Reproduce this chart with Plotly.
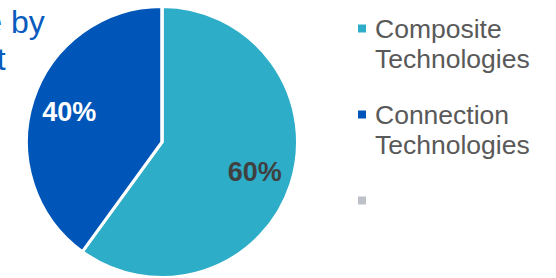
import plotly.graph_objects as go

# ---- data ----
categories = ["Composite Technologies", "Connection Technologies", ""]
shares = [60, 40, 0]
slice_colors = ["#2EADC8", "#0055B8", "#BCC1C8"]
label_colors = ["#404040", "#FFFFFF", "#404040"]
title_lines = ["Revenue by", "segment"]

W, H = 556, 278


def px_x(x):
    return x / W


def px_y(y):
    return 1 - y / H


pie_domain = dict(x=[px_x(26.5), px_x(297.5)], y=[0.5 / H, 271.5 / H])

fig = go.Figure()
# the pie itself
fig.add_trace(go.Pie(
    labels=categories, values=shares, sort=False, direction="clockwise", rotation=0,
    marker=dict(colors=slice_colors, line=dict(color="#FFFFFF", width=3)),
    textinfo="none", domain=pie_domain, showlegend=False, hoverinfo="skip",
))
# transparent ring carrying the percentage labels (places them in the outer part of each slice)
fig.add_trace(go.Pie(
    labels=categories, values=shares, sort=False, direction="clockwise", rotation=0,
    hole=0.44,
    marker=dict(colors=["rgba(0,0,0,0)"] * len(categories), line=dict(width=0)),
    textinfo="percent", textposition="inside", insidetextorientation="horizontal",
    textfont=dict(family="Liberation Sans, Arial", size=27, color=label_colors, weight="bold"),
    domain=pie_domain, showlegend=False, hoverinfo="skip",
))

shapes = []
annotations = []

# legend built from categories/colors
item_gap = 86
line_gap = 30.8
for i, (cat, col) in enumerate(zip(categories, slice_colors)):
    cy = 28.5 + i * item_gap
    shapes.append(dict(type="rect", xref="paper", yref="paper",
                       x0=px_x(358), x1=px_x(366), y0=px_y(cy - 4), y1=px_y(cy + 4),
                       fillcolor=col, line=dict(width=0)))
    words = cat.split(" ") if cat else []
    for j, w in enumerate(words):
        annotations.append(dict(text=w, xref="paper", yref="paper",
                                x=px_x(373), y=px_y(cy + j * line_gap),
                                xanchor="left", yanchor="middle", showarrow=False,
                                font=dict(family="Liberation Sans, Arial", size=26.5, color="#595959")))

# title (partially cut by the left edge, as in the source)
title_right = [47, 8]
title_mid = [22.3, 59.0]
for t, xr, ym in zip(title_lines, title_right, title_mid):
    annotations.append(dict(text=t, xref="paper", yref="paper",
                            x=px_x(xr), y=px_y(ym), xanchor="right", yanchor="middle",
                            showarrow=False,
                            font=dict(family="Liberation Sans, Arial", size=32, color="#0A5BBE")))

fig.update_layout(
    width=W, height=H,
    margin=dict(l=0, r=0, t=0, b=0),
    paper_bgcolor="#FFFFFF",
    plot_bgcolor="#FFFFFF",
    shapes=shapes,
    annotations=annotations,
    showlegend=False,
)

fig.write_html("out.html", config=dict(displayModeBar=False),
               post_script="document.body.style.margin='0';document.body.style.overflow='hidden';")
